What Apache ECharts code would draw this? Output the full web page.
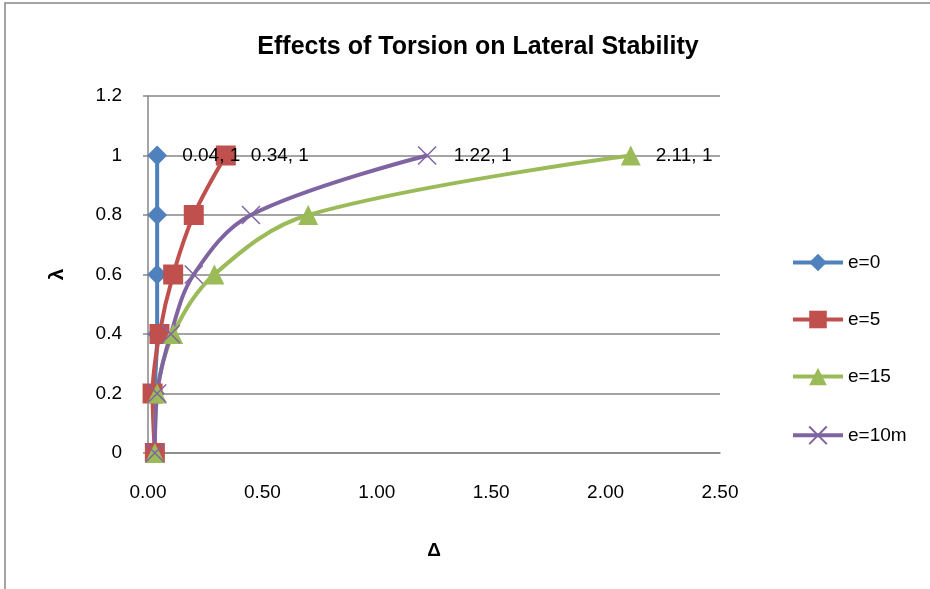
<!DOCTYPE html>
<html>
<head>
<meta charset="utf-8">
<script src="https://cdn.jsdelivr.net/npm/echarts@6/dist/echarts.min.js"></script>
<style>
  html, body { margin: 0; padding: 0; background: #fff; }
  #chart { width: 930px; height: 589px; }
</style>
</head>
<body>
<div id="chart"></div>
<script>
// lambda values (y) shared by every series
const lambda = [0, 0.2, 0.4, 0.6, 0.8, 1];
// Delta values (x) for each eccentricity
const deltaE0 = [0.03, 0.03, 0.04, 0.04, 0.04, 0.04];
const deltaE5 = [0.03, 0.02, 0.05, 0.11, 0.2, 0.34];
const deltaE15 = [0.03, 0.04, 0.11, 0.29, 0.70, 2.11];
const deltaE10m = [0.03, 0.04, 0.10, 0.20, 0.45, 1.22];
const seriesNames = ['e=0', 'e=5', 'e=15', 'e=10m'];
const xTicks = [0, 0.5, 1, 1.5, 2, 2.5];
const yTicks = [0, 0.2, 0.4, 0.6, 0.8, 1, 1.2];

const font = 'Liberation Sans';

// 把x和y拼成点，最后一个点加标签
function buildPoints(xs) {
  return xs.map(function (x, i) {
    const pt = { value: [x, lambda[i]] };
    if (i === xs.length - 1) pt.label = { show: true };
    return pt;
  });
}

function makeSeries(name, xs, color, symbol, size, extraStyle) {
  return {
    name: name,
    type: 'line',
    smooth: 0.35,
    data: buildPoints(xs),
    symbol: symbol,
    symbolSize: size,
    lineStyle: { color: color, width: 4 },
    itemStyle: Object.assign({ color: color }, extraStyle || {}),
    label: {
      position: 'right',
      distance: 15,
      color: '#000',
      fontFamily: font,
      fontSize: 19,
      formatter: function (p) {
        return p.value[0].toFixed(2) + ', ' + p.value[1];
      }
    },
    emphasis: { disabled: true },
    z: 3
  };
}

const chart = echarts.init(document.getElementById('chart'));
chart.setOption({
  animation: false,
  backgroundColor: '#fff',
  title: {
    text: 'Effects of Torsion on Lateral Stability',
    left: 473,
    top: 30,
    textAlign: 'center',
    textStyle: { fontFamily: font, fontWeight: 'bold', fontSize: 25, color: '#000' }
  },
  graphic: [{
    type: 'rect',
    shape: { x: 5, y: 3, width: 940, height: 600 },
    style: { fill: 'none', stroke: '#868686', lineWidth: 1.5 },
    silent: true
  }],
  legend: {
    orient: 'vertical',
    left: 786,
    top: 248,
    itemGap: 38,
    itemWidth: 50,
    itemHeight: 22,
    data: seriesNames,
    lineStyle: { width: 4 },
    textStyle: { fontFamily: font, fontSize: 19, color: '#000' }
  },
  grid: { left: 148, right: 210, top: 96, bottom: 136, containLabel: false },
  xAxis: {
    type: 'value',
    min: xTicks[0],
    max: xTicks[xTicks.length - 1],
    interval: 0.5,
    name: 'Δ',
    nameLocation: 'middle',
    nameGap: 88,
    nameTextStyle: { fontFamily: font, fontWeight: 'bold', fontSize: 19, color: '#000' },
    axisLine: { show: true, onZero: false, lineStyle: { color: '#868686', width: 1.5 } },
    axisTick: { show: false },
    splitLine: { show: false },
    axisLabel: {
      margin: 30,
      fontFamily: font, fontSize: 19, color: '#000',
      formatter: function (v) { return v.toFixed(2); }
    }
  },
  yAxis: {
    type: 'value',
    min: yTicks[0],
    max: yTicks[yTicks.length - 1],
    interval: 0.2,
    name: 'λ',
    nameLocation: 'middle',
    nameRotate: 90,
    nameGap: 80,
    nameTextStyle: { fontFamily: font, fontWeight: 'bold', fontSize: 21, color: '#000' },
    axisLine: { show: true, lineStyle: { color: '#868686', width: 1.5 } },
    axisTick: { show: true, length: 5, lineStyle: { color: '#868686', width: 1.5 } },
    splitLine: { show: true, lineStyle: { color: '#868686', width: 1.5 } },
    axisLabel: {
      margin: 26,
      fontFamily: font, fontSize: 19, color: '#000',
      formatter: function (v) { return String(Math.round(v * 10) / 10); }
    }
  },
  series: [
    makeSeries('e=0', deltaE0, '#4F81BD', 'diamond', 20),
    makeSeries('e=5', deltaE5, '#C0504D', 'rect', 20),
    makeSeries('e=15', deltaE15, '#9BBB59', 'triangle', 20),
    makeSeries('e=10m', deltaE10m, '#8064A2', 'path://M0,0L10,10M10,0L0,10', 18,
      { color: 'none', borderColor: '#8064A2', borderWidth: 1.5 })
  ]
});
</script>
</body>
</html>
